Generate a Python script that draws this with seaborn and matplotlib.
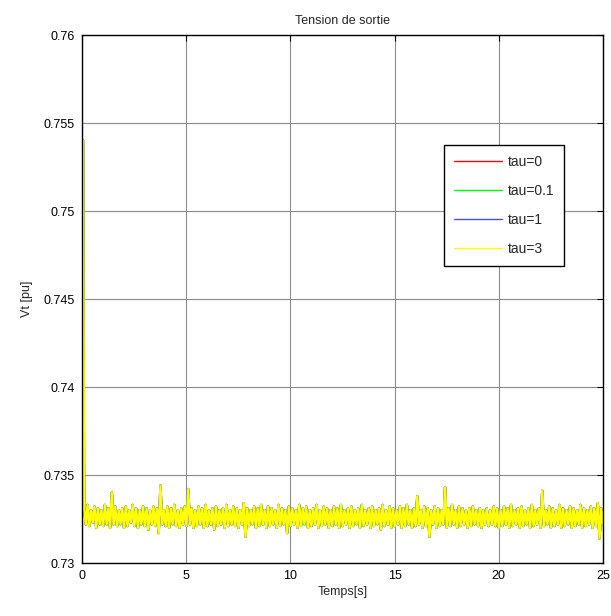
import numpy as np
import pandas as pd
import matplotlib
matplotlib.use("Agg")
import matplotlib.pyplot as plt
from matplotlib.ticker import FuncFormatter
import seaborn as sns

# output voltage (spike at start, then a noisy band)
t_start = [0.05]
vt_start = [0.754]
vt_band = [
    0.7331, 0.7322, 0.7333, 0.7321, 0.7330, 0.7323, 0.7332, 0.7320, 0.7331, 0.7322,
    0.7330, 0.7321, 0.7333, 0.7322, 0.7331, 0.7320, 0.7340, 0.7322, 0.7332, 0.7321,
    0.7330, 0.7322, 0.7331, 0.7320, 0.7332, 0.7321, 0.7330, 0.7323, 0.7333, 0.7321,
    0.7331, 0.7320, 0.7330, 0.7322, 0.7332, 0.7321, 0.7331, 0.7319, 0.7330, 0.7322,
    0.7332, 0.7321, 0.7331, 0.7317, 0.7344, 0.7322, 0.7330, 0.7321, 0.7332, 0.7320,
    0.7331, 0.7322, 0.7333, 0.7321, 0.7330, 0.7320, 0.7331, 0.7322, 0.7332, 0.7321,
    0.7342, 0.7322, 0.7331, 0.7320, 0.7330, 0.7321, 0.7332, 0.7322, 0.7331, 0.7320,
    0.7333, 0.7321, 0.7330, 0.7322, 0.7331, 0.7319, 0.7332, 0.7321, 0.7330, 0.7322,
    0.7331, 0.7320, 0.7333, 0.7321, 0.7330, 0.7322, 0.7332, 0.7321, 0.7331, 0.7320,
    0.7330, 0.7322, 0.7334, 0.7315, 0.7331, 0.7321, 0.7330, 0.7322, 0.7332, 0.7320,
    0.7331, 0.7321, 0.7333, 0.7322, 0.7330, 0.7320, 0.7332, 0.7321, 0.7331, 0.7322,
    0.7330, 0.7320, 0.7333, 0.7321, 0.7331, 0.7322, 0.7330, 0.7317, 0.7332, 0.7321,
    0.7331, 0.7322, 0.7330, 0.7320, 0.7333, 0.7321, 0.7331, 0.7322, 0.7332, 0.7320,
    0.7330, 0.7321, 0.7331, 0.7322, 0.7333, 0.7320, 0.7330, 0.7321, 0.7332, 0.7322,
    0.7331, 0.7320, 0.7330, 0.7321, 0.7332, 0.7322, 0.7331, 0.7320, 0.7333, 0.7321,
    0.7330, 0.7322, 0.7331, 0.7320, 0.7332, 0.7321, 0.7330, 0.7322, 0.7331, 0.7320,
    0.7333, 0.7321, 0.7330, 0.7322, 0.7331, 0.7320, 0.7332, 0.7321, 0.7330, 0.7322,
    0.7331, 0.7319, 0.7333, 0.7321, 0.7330, 0.7322, 0.7332, 0.7320, 0.7331, 0.7321,
    0.7330, 0.7322, 0.7332, 0.7320, 0.7331, 0.7321, 0.7333, 0.7322, 0.7330, 0.7320,
    0.7331, 0.7321, 0.7338, 0.7322, 0.7330, 0.7320, 0.7332, 0.7321, 0.7331, 0.7315,
    0.7330, 0.7322, 0.7332, 0.7320, 0.7331, 0.7321, 0.7330, 0.7322, 0.7343, 0.7320,
    0.7331, 0.7321, 0.7333, 0.7322, 0.7330, 0.7320, 0.7332, 0.7321, 0.7331, 0.7322,
    0.7330, 0.7320, 0.7331, 0.7321, 0.7332, 0.7322, 0.7330, 0.7321, 0.7331, 0.7320,
    0.7330, 0.7322, 0.7331, 0.7321, 0.7330, 0.7322, 0.7332, 0.7321, 0.7331, 0.7320,
    0.7330, 0.7321, 0.7332, 0.7322, 0.7331, 0.7320, 0.7333, 0.7321, 0.7330, 0.7322,
    0.7331, 0.7320, 0.7332, 0.7321, 0.7330, 0.7322, 0.7331, 0.7320, 0.7333, 0.7321,
    0.7330, 0.7322, 0.7331, 0.7320, 0.7341, 0.7321, 0.7330, 0.7322, 0.7332, 0.7320,
    0.7331, 0.7321, 0.7330, 0.7322, 0.7333, 0.7320, 0.7331, 0.7321, 0.7330, 0.7322,
    0.7332, 0.7320, 0.7331, 0.7321, 0.7330, 0.7322, 0.7333, 0.7320, 0.7331, 0.7321,
    0.7330, 0.7322, 0.7332, 0.7320, 0.7331, 0.7321, 0.7334, 0.7314, 0.7331, 0.7322,
]
vt = vt_start + vt_band
t = np.concatenate([t_start, np.linspace(0.1, 25, len(vt_band))])

taus = ["tau=0", "tau=0.1", "tau=1", "tau=3"]
colors = {"tau=0": "#ff0000", "tau=0.1": "#00ff00", "tau=1": "#4d4dff", "tau=3": "#ffff00"}

# the four responses are on top of each other, tau=3 drawn last hides the rest
df = pd.concat([pd.DataFrame({"t": t, "vt": vt, "tau": k}) for k in taus], ignore_index=True)

sns.set_style("white")
plt.rcParams["font.family"] = ["Liberation Sans", "DejaVu Sans"]
plt.rcParams["font.size"] = 9

fig = plt.figure(figsize=(6.11, 6.16), dpi=100)
ax = fig.add_axes([82 / 611, 1 - 563 / 616, 521 / 611, 528 / 616])

sns.lineplot(data=df, x="t", y="vt", hue="tau", hue_order=taus, palette=colors,
             estimator=None, sort=False, linewidth=1.7, ax=ax)

ax.set_xlim(0, 25)
ax.set_ylim(0.73, 0.76)
ax.set_xticks([0, 5, 10, 15, 20, 25])
ax.set_yticks([0.73, 0.735, 0.74, 0.745, 0.75, 0.755, 0.76])
ax.yaxis.set_major_formatter(FuncFormatter(lambda v, p: f"{v:g}"))
ax.grid(True, color="#8c8c8c", linewidth=0.8)
ax.tick_params(direction="in", length=4, width=0.8, top=True, right=True,
               labelsize=9, colors="black", pad=5)
for s in ax.spines.values():
    s.set_color("black")
    s.set_linewidth(1.0)

ax.set_title("Tension de sortie", fontsize=9, pad=8)
ax.set_xlabel("Temps[s]", fontsize=9, labelpad=3)
ax.set_ylabel("Vt [pu]", fontsize=9, labelpad=8)

handles, labels = ax.get_legend_handles_labels()
for h in handles:
    h.set_linewidth(1.0)
leg = ax.legend(handles, labels, loc="upper left", bbox_to_anchor=(0.695, 0.792),
                frameon=True, fancybox=False, edgecolor="black", framealpha=1,
                fontsize=10, handlelength=3.45, labelspacing=1.09, borderpad=0.72,
                handletextpad=0.43, borderaxespad=0)
leg.get_frame().set_linewidth(1.0)

fig.savefig("out.png", dpi=100)
